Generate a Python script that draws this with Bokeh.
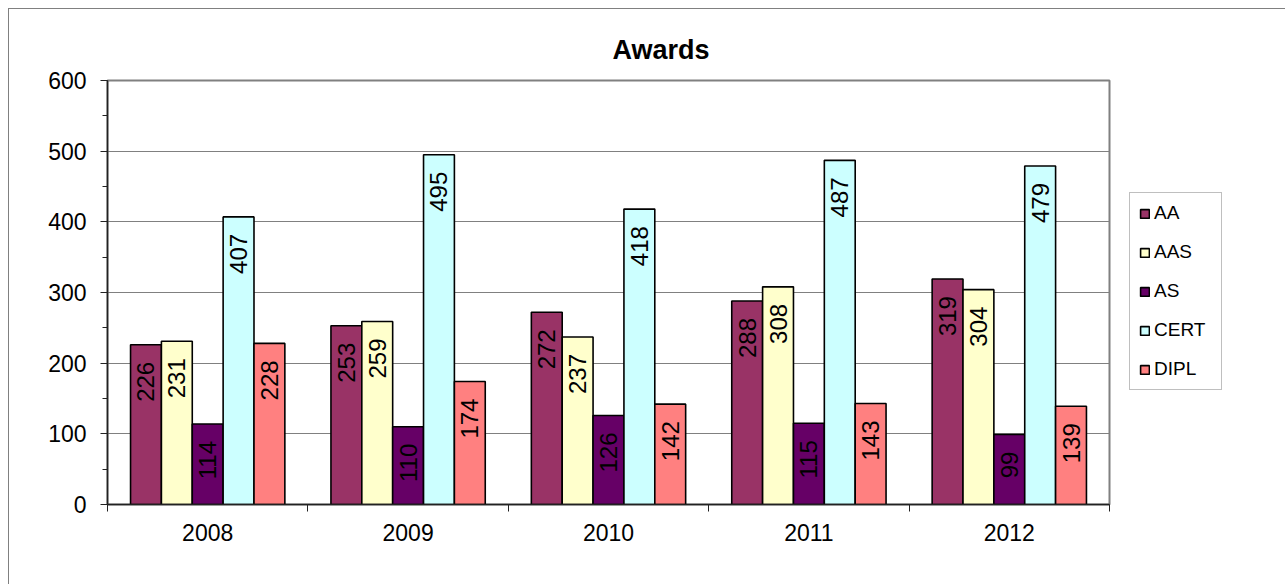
import math
from bokeh.plotting import figure
from bokeh.layouts import row
from bokeh.models import (ColumnDataSource, Range1d, FixedTicker, Legend, LegendItem,
                          CDSView, IndexFilter)
from bokeh.transform import dodge
from bokeh.core.properties import value
from bokeh.embed import file_html
from bokeh.resources import INLINE

years = ["2008", "2009", "2010", "2011", "2012"]
series_names = ["AA", "AAS", "AS", "CERT", "DIPL"]
AA = [226, 253, 272, 288, 319]
AAS = [231, 259, 237, 308, 304]
AS = [114, 110, 126, 115, 99]
CERT = [407, 495, 418, 487, 479]
DIPL = [228, 174, 142, 143, 139]
colors = ["#993366", "#FFFFCC", "#660066", "#CCFFFF", "#FF8080"]
y_ticks = [0, 100, 200, 300, 400, 500, 600]

FONT = "Liberation Sans"

data = {"xc": [i + 0.5 for i in range(len(years))]}
for name, vals in zip(series_names, [AA, AAS, AS, CERT, DIPL]):
    data[name] = vals
    data[name + "_lbl"] = [str(v) for v in vals]
src = ColumnDataSource(data)

p = figure(width=1110, height=575, output_backend="svg", toolbar_location=None,
           x_range=Range1d(0, len(years)), y_range=Range1d(0, 600),
           min_border_left=98, min_border_right=10, min_border_top=71,
           min_border_bottom=80)
p.background_fill_color = "white"
p.border_fill_color = "white"
p.outline_line_color = "#808080"
p.outline_line_width = 2

p.title.text = "Awards"
p.title.align = "left"
p.title.offset = 505
p.title.standoff = 31
p.title.text_font = FONT
p.title.text_font_style = "bold"
p.title.text_font_size = "27px"
p.title.text_color = "black"

bw = 0.154
for k, (name, col) in enumerate(zip(series_names, colors)):
    off = (k - 2) * bw
    p.vbar(x=dodge("xc", off), top=name, width=bw, source=src,
           fill_color=col, line_color="black", line_width=1.6)
    p.text(x=dodge("xc", off), y=name, text=name + "_lbl", source=src,
           angle=math.pi / 2, text_align="right", text_baseline="middle",
           y_offset=17, text_font=value(FONT), text_font_size="24px",
           text_color="black")

# y axis
p.yaxis.ticker = FixedTicker(ticks=y_ticks, minor_ticks=list(range(0, 601, 50)))
p.yaxis.major_tick_out = 7
p.yaxis.major_tick_in = 0
p.yaxis.minor_tick_out = 5
p.yaxis.minor_tick_in = 0
p.yaxis.axis_line_color = "#222222"
p.yaxis.axis_line_width = 1.5
p.yaxis.major_tick_line_color = "#222222"
p.yaxis.minor_tick_line_color = "#222222"
p.yaxis.major_label_text_font = FONT
p.yaxis.major_label_text_font_size = "23px"
p.yaxis.major_label_text_color = "black"
p.yaxis.major_label_standoff = 14

# x axis: labels at centers, ticks at boundaries
centers = [i + 0.5 for i in range(len(years))]
p.xaxis.ticker = FixedTicker(ticks=centers, minor_ticks=list(range(len(years) + 1)))
p.xaxis.major_label_overrides = {c: y for c, y in zip(centers, years)}
p.xaxis.major_tick_out = 0
p.xaxis.major_tick_in = 0
p.xaxis.minor_tick_out = 7
p.xaxis.minor_tick_in = 0
p.xaxis.axis_line_color = "#222222"
p.xaxis.axis_line_width = 1.5
p.xaxis.minor_tick_line_color = "#222222"
p.xaxis.major_label_text_font = FONT
p.xaxis.major_label_text_font_size = "23px"
p.xaxis.major_label_text_color = "black"
p.xaxis.major_label_standoff = 12

p.xgrid.grid_line_color = None
p.ygrid.ticker = FixedTicker(ticks=y_ticks)
p.ygrid.grid_line_color = "#808080"
p.ygrid.grid_line_width = 1

# legend panel (separate canvas to the right of the plot); its one proxy bar
# per series lies behind the opaque legend box, so only the legend shows
lf = figure(width=1276 - 1110, height=575, output_backend="svg", toolbar_location=None,
            x_range=Range1d(0, 1), y_range=Range1d(-800, 1500), min_border=0)
lf.axis.visible = False
lf.grid.grid_line_color = None
lf.outline_line_color = None
lf.background_fill_color = "white"
lf.border_fill_color = "white"
items = []
for k, (name, col) in enumerate(zip(series_names, colors)):
    r = lf.vbar(x="xc", top=name, width=bw, source=src,
                view=CDSView(filter=IndexFilter([0])),
                fill_color=col, line_color="black", line_width=1.6)
    items.append(LegendItem(label=name, renderers=[r]))

legend = Legend(items=items, location=(10, 114), orientation="vertical",
                glyph_width=11, glyph_height=11, label_height=20, spacing=17,
                padding=9, margin=0, label_standoff=4, label_width=58,
                label_text_font=FONT, label_text_font_size="19px",
                label_text_color="black", border_line_color="#808080",
                border_line_width=1, background_fill_color="white",
                background_fill_alpha=1)
lf.add_layout(legend)

layout = row(p, lf, spacing=0, margin=(8, 0, 0, 8))
layout.styles = {"border-left": "1px solid #808080", "border-top": "1px solid #808080"}

open("out.html", "w").write(file_html(layout, INLINE))
